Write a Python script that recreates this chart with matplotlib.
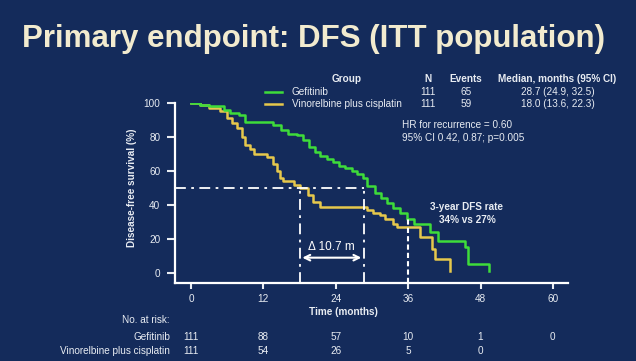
import matplotlib.pyplot as plt
from matplotlib.transforms import blended_transform_factory

plt.rcParams['font.family'] = ['Liberation Sans', 'DejaVu Sans']

# Kaplan-Meier steps
gef_t = [0, 1.5, 3, 5.5, 6.5, 8, 9, 13.6, 15, 16, 17.6, 18.6, 19.5, 20.6, 21.4,
         22.5, 23.5, 24.5, 25.5, 26.7, 27.5, 28.5, 29.2, 30.5, 31.5, 32.5, 33.5,
         34.7, 35.8, 37, 39.6, 41, 45.4, 46, 49.4]
gef_s = [100, 99, 98, 96, 94, 93, 89, 87, 84, 82, 81, 78, 74, 71, 69,
         67, 65, 63, 62, 60, 58, 56, 51, 47, 44, 41, 38,
         35, 32, 29, 24, 19, 15, 5, 1]
vin_t = [0, 1.5, 3, 4.8, 6, 6.8, 7.6, 8.5, 9, 9.8, 10.5, 12.6, 13.6, 14.2, 14.8,
         15.3, 17, 18, 19.4, 20.2, 21.4, 29.2, 30.2, 31.3, 32.2, 33.5, 34.2, 38,
         40, 40.5, 43]
vin_s = [100, 99, 97, 95, 91, 88, 85, 80, 75, 73, 70, 68, 64, 60, 56,
         54, 52, 50, 46, 42, 39, 37, 35, 34, 32, 29, 27, 21,
         14, 8, 1]

median_gef = 28.7
median_vin = 18.0
dfs3y_gef = 32

xticks = [0, 12, 24, 36, 48, 60]
yticks = [0, 20, 40, 60, 80, 100]
risk_gef = ['111', '88', '57', '10', '1', '0']
risk_vin = ['111', '54', '26', '5', '0']

bg = '#142b5b'
fg = '#e8ecf2'
green = '#3edc3a'
yellow = '#e6c84c'

fig = plt.figure(figsize=(6.36, 3.61), dpi=100, facecolor=bg)
ax = fig.add_axes([175 / 636, 1 - 283 / 361, (568 - 175) / 636, (283 - 103) / 361])
ax.set_facecolor(bg)
ax.set_xlim(-2.65, 62.5)
ax.set_ylim(-5.9, 100)

ax.plot(vin_t, vin_s, drawstyle='steps-post', color=yellow, lw=1.8)
ax.plot(gef_t, gef_s, drawstyle='steps-post', color=green, lw=1.8)

# median / 3-year guide lines
ax.plot([-2.65, median_gef], [50, 50], color='white', lw=1.3, dashes=(6, 3, 1.5, 3))
for m in (median_vin, median_gef):
    ax.plot([m, m], [-5.9, 50], color='white', lw=1.3, dashes=(6, 3, 1.5, 3))
ax.plot([36, 36], [-5.9, dfs3y_gef], color='white', lw=1.5, dashes=(2.5, 1.5))

ax.annotate('', xy=(median_vin, 9), xytext=(median_gef, 9),
            arrowprops=dict(arrowstyle='<->', color='white', lw=1.5))
ax.text((median_vin + median_gef) / 2, 15.5, '\u0394 10.7 m', color='white',
        fontsize=8.5, ha='center', va='center')

for s in ('top', 'right'):
    ax.spines[s].set_visible(False)
for s in ('left', 'bottom'):
    ax.spines[s].set_color('white')
    ax.spines[s].set_linewidth(1.6)
ax.spines['left'].set_bounds(-5.9, 100)
ax.set_xticks(xticks)
ax.set_yticks(yticks)
ax.tick_params(axis='y', colors=fg, labelsize=7.2, length=6, width=1.5, pad=4.5)
ax.tick_params(axis='x', colors=fg, labelsize=7.2, length=4.5, width=1.5, pad=3.5)
for lab in ax.get_xticklabels() + ax.get_yticklabels():
    lab.set_color(fg)

fig.text(132 / 636, 1 - 188 / 361, 'Disease-free survival (%)', rotation=90,
         color=fg, fontsize=7.2, fontweight='bold', ha='center', va='center')
fig.text(343 / 636, 1 - 312 / 361, 'Time (months)', color=fg, fontsize=7.2,
         fontweight='bold', ha='center', va='center')

# title
fig.text(22 / 636, 1 - 39 / 361, 'Primary endpoint: DFS (ITT population)',
         color='#f2ebcf', fontsize=22.5, fontweight='bold', ha='left', va='center')

# legend table
def ft(x, y, s, **kw):
    kw.setdefault('color', fg)
    kw.setdefault('fontsize', 7.2)
    kw.setdefault('va', 'center')
    fig.text(x / 636, 1 - y / 361, s, **kw)

ft(347, 79, 'Group', fontweight='bold', ha='center')
ft(428, 79, 'N', fontweight='bold', ha='center')
ft(466, 79, 'Events', fontweight='bold', ha='center')
ft(557, 79, 'Median, months (95% CI)', fontweight='bold', ha='center')
fig.add_artist(plt.Line2D([265 / 636, 282 / 636], [1 - 92 / 361] * 2, color=green, lw=1.8))
fig.add_artist(plt.Line2D([265 / 636, 282 / 636], [1 - 104 / 361] * 2, color=yellow, lw=1.8))
ft(292, 92, 'Gefitinib', ha='left')
ft(292, 104, 'Vinorelbine plus cisplatin', ha='left')
ft(428, 92, '111', ha='center')
ft(428, 104, '111', ha='center')
ft(466, 92, '65', ha='center')
ft(466, 104, '59', ha='center')
ft(558, 92, '28.7 (24.9, 32.5)', ha='center')
ft(558, 104, '18.0 (13.6, 22.3)', ha='center')
ft(402, 125, 'HR for recurrence = 0.60', ha='left')
ft(402, 138, '95% CI 0.42, 0.87; p=0.005', ha='left')
ft(467, 207, '3-year DFS rate', fontweight='bold', ha='center')
ft(467, 220, '34% vs 27%', fontweight='bold', ha='center')

# number at risk
ft(170, 320, 'No. at risk:', ha='right')
ft(170, 337, 'Gefitinib', ha='right')
ft(170, 351, 'Vinorelbine plus cisplatin', ha='right')
tr = blended_transform_factory(ax.transData, fig.transFigure)
for x, n in zip(xticks, risk_gef):
    ax.text(x, 1 - 337 / 361, n, transform=tr, color=fg, fontsize=7.2,
            ha='center', va='center', clip_on=False)
for x, n in zip(xticks, risk_vin):
    ax.text(x, 1 - 351 / 361, n, transform=tr, color=fg, fontsize=7.2,
            ha='center', va='center', clip_on=False)

fig.savefig('out.png', dpi=100, facecolor=bg)
